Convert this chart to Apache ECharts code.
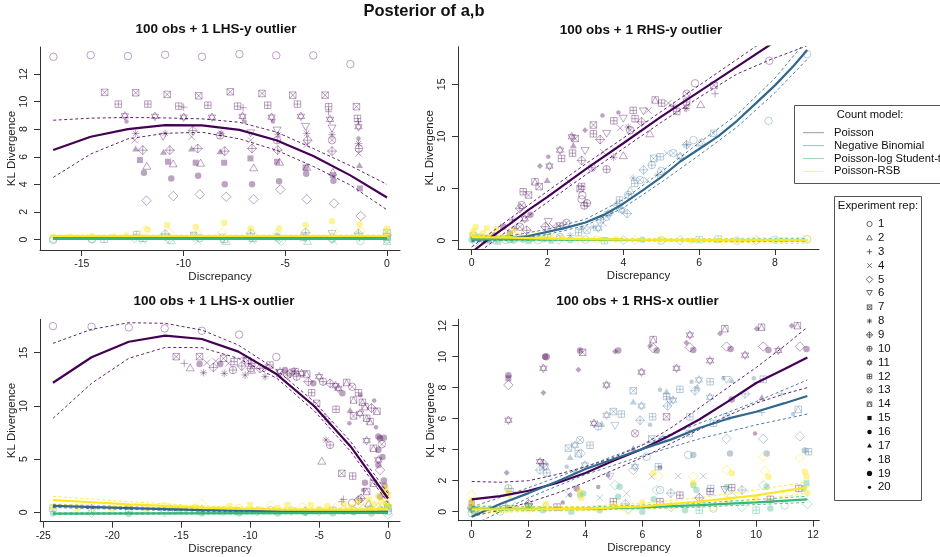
<!DOCTYPE html>
<html><head><meta charset="utf-8">
<script src="https://cdn.jsdelivr.net/npm/echarts@6/dist/echarts.min.js"></script>
<style>html,body{margin:0;padding:0;background:#fff}#c{width:940px;height:557px}</style>
</head><body><div id="c"></div>
<script>
// ---------------- DATA ----------------
const modelNames = ['Poisson','Negative Binomial','Poisson-log Student-t','Poisson-RSB'];
const repLabels = ['1','2','3','4','5','6','7','8','9','10','11','12','13','14','15','16','17','18','19','20'];
const panelTitles = ['100 obs + 1 LHS-y outlier','100 obs + 1 RHS-y outlier','100 obs + 1 LHS-x outlier','100 obs + 1 RHS-x outlier'];
const xTicks1 = [-15,-10,-5,0];
const yTicks1 = [0,2,4,6,8,10,12];
const xTicks2 = [0,2,4,6,8];
const yTicks2 = [0,5,10,15];
const xTicks3 = [-25,-20,-15,-10,-5,0];
const yTicks3 = [0,5,10,15];
const xTicks4 = [0,2,4,6,8,10,12];
const yTicks4 = [0,2,4,6,8,10,12];

// points: [discrepancy, KL divergence, experiment rep (pch)]
const p1Pois = [[-16.39,13.25,1],[-14.56,13.37,1],[-12.73,13.3,1],[-10.9,13.4,1],[-9.09,13.25,1],[-7.25,13.45,1],[-5.44,13.35,1],[-3.62,13.35,1],[-1.8,12.72,1],
[-13.87,10.67,7],[-12.35,10.64,7],[-10.8,10.52,7],[-9.25,10.42,7],[-7.7,10.71,7],[-6.14,10.59,7],[-4.63,10.47,7],[-3.04,10.47,7],[-1.5,9.63,7],
[-13.2,9.82,12],[-11.75,9.82,12],[-10.23,9.67,12],[-8.8,9.74,12],[-7.34,9.67,12],[-5.86,9.74,12],[-4.4,9.82,12],[-2.87,9.63,12],[-1.45,8.78,12],
[-9.99,9.6,3],[-7.07,9.56,3],[-2.87,9.27,3],[-1.4,8.54,3],
[-12.88,8.97,11],[-11.4,8.93,11],[-9.99,8.87,11],[-8.6,8.87,11],[-7.1,8.93,11],[-5.67,8.87,11],[-4.23,8.93,11],[-2.8,8.71,11],[-1.4,8.18,11],
[-12.8,8.55,20],[-7.0,8.55,20],[-5.6,8.55,20],[-1.4,7.33,20],
[-12.35,7.69,8],[-12.4,7.2,4],[-10.9,7.7,8],[-11.0,7.45,6],[-9.55,7.9,9],[-9.6,7.45,4],[-8.15,7.7,8],[-8.2,7.55,10],[-6.7,7.7,6],[-6.7,7.2,4],[-5.4,7.9,6],[-5.35,7.6,8],[-5.4,7.2,10],[-4.0,8.17,6],[-3.95,7.7,8],[-3.9,7.2,9],[-3.95,6.86,4],[-2.7,8.05,6],[-2.7,7.6,8],[-2.7,7.2,13],[-1.4,6.96,8],[-1.38,6.6,10],[-1.4,6.24,4],
[-12.35,6.6,17],[-10.98,6.36,17],[-9.6,6.6,17],[-8.2,6.4,17],[-1.35,5.4,17],
[-12.0,6.48,9],[-10.67,6.48,9],[-9.3,6.6,9],[-7.97,6.41,9],[-6.63,6.6,9],[-5.37,6.48,9],[-2.7,6.41,9],
[-12.14,5.76,15],[-10.76,5.64,15],[-9.4,5.57,15],[-8.0,5.57,15],[-6.71,5.88,15],[-5.4,5.64,15],[-4.0,5.23,15],[-2.66,4.67,15],[-1.33,3.7,15],
[-11.8,5.35,2],[-10.51,5.52,2],[-9.16,5.57,2],[-6.55,5.23,2],[-5.28,5.64,2],[-3.94,5.27,2],[-2.66,4.91,2],
[-11.94,4.84,16],[-10.6,4.43,16],[-9.28,4.63,16],[-7.97,4.0,16],[-6.63,4.0,16],[-5.3,4.22,16],[-3.97,4.77,16],[-2.63,4.26,16],
[-11.82,2.82,5],[-10.5,3.15,5],[-9.2,3.27,5],[-7.9,3.1,5],[-6.55,2.91,5],[-5.24,3.63,5],[-3.94,2.91,5],[-2.6,2.62,5],[-1.29,1.7,5]];
const p1NegBin = [[-12.3,0.35,12],[-12.0,0.1,2],[-10.9,0.4,9],[-10.7,0.05,5],[-9.5,0.3,7],[-9.2,0.1,1],[-8.1,0.25,4],[-8.0,0.0,12],[-6.7,0.45,9],[-6.6,0.1,2],[-5.4,0.3,8],[-5.3,0.05,5],[-4.0,0.5,9],[-4.1,0.15,12],[-2.7,0.4,6],[-2.7,0.05,1],[-1.4,0.45,9],[-1.35,0.1,3],[0,0.5,7],[0,0.2,12],[0,0.0,1],[-16.4,0.05,1],[-14.5,0.05,1],[-13.9,0.02,12]];
const p1StudT = [[-16.4,-0.05,1],[-14.5,0.0,1],[-12.4,0.1,5],[-12.0,-0.1,4],[-10.9,0.15,6],[-10.6,-0.05,2],[-9.5,0.2,5],[-9.3,-0.1,4],[-8.1,0.1,5],[-7.9,-0.1,2],[-6.7,0.2,5],[-6.6,-0.1,4],[-5.4,0.15,1],[-5.2,-0.1,5],[-4.0,0.2,5],[-3.9,-0.1,2],[-2.7,0.15,5],[-2.6,-0.12,4],[-1.4,0.25,5],[-1.3,-0.1,1],[0,0.3,5],[0,-0.1,2],[0,0.1,16]];
const p1RSB = [[-16.4,0.2,16],[-15.6,0.2,15],[-14.5,0.25,16],[-13.5,0.2,15],[-12.8,0.3,16],[-11.86,0.69,5],[-11.78,0.74,16],[-12.3,0.4,1],[-10.8,1.05,15],[-10.7,0.5,5],[-9.4,0.9,16],[-9.3,0.4,1],[-8.0,1.2,16],[-8.1,0.5,5],[-6.7,0.8,16],[-6.6,0.4,1],[-5.3,0.8,16],[-5.4,0.4,5],[-4.0,1.05,16],[-4.0,0.5,1],[-2.7,1.33,16],[-2.6,0.6,5],[-1.35,1.1,16],[-1.3,0.6,1],[0,0.8,16],[0,0.5,5],[0,0.3,15]];

const p2Pois = [[1.8,7.16,18],[2.05,7.16,11],[2.02,8.05,20],[1.67,5.65,14],[1.78,5.19,7],[1.99,5.83,17],[1.5,4.38,7],[1.36,4.7,12],[1.32,3.42,13],[1.27,3.1,9],[1.08,1.99,8],[2.33,8.69,11],[2.37,7.89,12],[2.64,9.97,11],[2.68,9.17,17],[2.73,9.8,7],[2.66,8.4,12],[2.99,10.6,18],[3.21,11.1,7],[3.45,12.0,20],[3.21,10.25,12],[3.39,9.7,9],[2.99,8.6,6],[3.56,10.25,6],[2.9,7.7,9],[3.17,7.0,10],[3.47,8.5,4],[3.74,8.0,8],[4.0,8.2,2],[3.56,6.85,10],[2.86,5.0,7],[2.92,4.36,1],[3.04,3.6,10],[2.55,5.7,4],[3.75,11.5,12],[3.87,12.3,20],[4.0,11.7,6],[4.26,12.5,12],[4.31,11.7,12],[4.48,11.4,9],[4.53,12.4,6],[4.66,12.5,4],[4.13,10.9,8],[3.92,10.8,4],[4.18,10.6,13],[4.7,10.3,2],[4.84,13.5,14],[5.01,13.2,12],[5.19,13.2,4],[5.32,12.9,8],[5.67,14.1,13],[5.89,15.1,1],[6.04,13.1,2],[5.67,12.7,8],[5.41,12.4,12],[5.67,13.3,12],[6.39,14.9,7],[6.42,14.1,3],[5.63,12.7,3],[0.83,1.34,15],[1.14,1.18,8],[1.27,1.34,13],[1.01,0.7,16],[1.45,1.0,9],[2.02,1.8,6],[1.94,1.34,9],[2.14,1.34,4],[2.33,1.4,12],[2.29,1.44,4],[2.5,1.7,13],[2.9,5.2,12],[7.85,17.26,1],[0.6,0.5,16],[0.3,0.2,1],[1.55,2.5,16],[1.4,2.1,11],[2.9,3.97,1],[2.97,3.37,10]];
const p2NegBin = [[5.85,9.65,1],[6.02,9.4,2],[5.67,9.2,8],[5.32,8.4,13],[5.15,8.4,4],[4.97,8.05,12],[4.8,7.9,7],[6.38,10.3,7],[4.75,7.25,10],[4.53,6.8,9],[4.26,6.0,8],[4.44,5.82,13],[4.62,5.82,4],[4.3,5.5,12],[4.18,4.86,2],[4.13,4.4,10],[3.83,3.4,9],[3.7,2.78,8],[3.56,2.3,13],[3.39,2.0,12],[3.21,1.3,8],[3.04,1.0,13],[2.82,0.77,12],[2.6,0.5,8],[2.33,0.35,13],[3.96,2.95,11],[4.1,2.6,9],[3.47,1.7,4],[3.34,1.2,11],[5.67,9.2,9],[6.07,9.5,2],[7.83,11.5,1],[8.85,17.9,1],[5.5,8.1,11],[5.0,6.7,13],[4.9,6.3,8],[3.9,3.9,12],[3.6,2.6,11],[2.9,1.2,8],[2.0,0.3,12],[1.5,0.2,4],[1.0,0.15,1],[0.5,0.1,12],[0.1,0.2,7],[0.05,0.5,13]];
const p2StudT = [[0,0.1,16],[0.05,0.3,15],[0.1,-0.1,5],[0.2,0.4,16],[0.3,0.2,1],[0.4,0.0,15],[0.5,0.3,16],[0.6,0.1,5],[0.7,-0.1,15],[0.8,0.25,16],[0.9,0.05,1],[1.0,0.2,15],[1.1,0.0,16],[1.2,0.3,5],[1.35,0.1,16],[1.5,-0.05,15],[1.6,0.2,16],[1.75,0.05,1],[1.9,0.15,16],[2.1,0.0,15],[2.3,0.1,5],[2.6,0.05,16],[3.0,0.1,1],[3.5,0.0,12],[4.0,0.05,5],[4.5,0.1,16],[5.0,0.0,1],[5.5,0.05,5],[6.0,0.1,12],[6.5,0.15,12],[7.0,0.0,1],[7.5,0.05,5],[8.0,0.1,1],[8.85,0.15,1]];
const p2RSB = [[0,0.6,16],[0.05,0.9,15],[0.1,1.3,15],[0.15,0.4,16],[0.3,0.7,16],[0.4,1.2,15],[0.5,0.5,16],[0.65,1.1,15],[0.7,0.3,16],[0.85,0.8,5],[1.0,0.5,16],[1.1,1.0,15],[1.25,0.4,16],[1.4,0.6,1],[1.55,0.3,16],[1.7,0.45,5],[1.9,0.25,16],[2.1,0.35,15],[2.4,0.2,16],[2.8,0.15,5],[3.3,0.1,1],[3.8,0.15,16],[4.3,0.05,5],[5.0,0.1,1],[5.8,0.0,16],[6.6,0.05,5],[7.4,0.0,1],[8.2,0.05,16],[8.85,0.1,1]];

const p3Pois = [[-24.3,17.5,1],[-21.5,17.44,1],[-18.8,17.38,1],[-16.2,17.28,1],[-13.5,17.06,1],[-10.8,16.7,1],[-8.1,14.6,1],
[-15.36,14.63,7],[-14.78,14.0,3],[-14.35,13.62,2],[-13.67,14.63,7],[-13.67,13.94,16],[-13.38,13.12,8],[-13.14,14.06,4],[-12.66,13.62,9],[-12.17,13.94,16],[-11.88,13.06,8],[-11.93,14.47,7],[-11.57,14.0,4],[-11.25,13.37,10],[-11.16,14.16,12],[-10.6,13.75,9],[-10.36,12.9,8],[-10.19,14.25,7],[-9.95,13.53,10],[-9.88,14.0,12],[-9.28,13.53,9],[-8.92,12.75,8],[-8.56,13.84,12],[-7.83,13.22,11],[-7.47,13.37,16],[-7.1,13.06,9],[-6.74,13.22,12],[-6.62,12.75,10],[-6.26,13.06,11],[-5.9,13.0,14],[-5.78,12.28,9],[-5.54,11.24,12],[-5.42,12.12,16],[-5.18,10.24,7],[-5.0,12.75,11],[-4.71,12.28,10],[-4.59,9.0,3],[-4.5,6.8,8],[-4.2,6.33,10],[-4.2,12.12,9],[-3.6,11.65,11],[-3.31,11.18,16],[-3.77,9.68,12],[-4.3,8.5,3],[-4.8,4.85,2],[-3.35,3.66,7],[-2.56,3.41,12],[-2.75,9.62,17],[-2.5,9.06,7],[-2.8,8.37,20],[-2.6,11.8,13],[-2.5,10.55,14],[-2.03,9.3,11],[-1.67,9.93,14],[-1.55,8.84,14],[-1.3,8.53,14],[-2.14,11.24,12],[-1.85,10.34,14],[-0.87,8.0,20],[-0.7,7.13,16],[-0.58,6.96,16],[-1.55,6.74,11],[-1.06,6.02,14],[-0.7,5.86,16],[-0.7,4.93,11],[-0.58,3.98,5],[-0.7,4.45,16],[-1.67,2.79,16],[-1.79,2.1,20],[-1.06,2.73,14],[-1.55,1.96,14],[-3.35,1.0,3],[-2.6,0.9,1],[-2.15,1.15,9],[-1.4,0.84,2],[-0.58,1.47,16],[-0.3,3.0,16],[-0.25,2.5,16],[-0.2,1.8,13],[-0.4,5.2,16],[-0.45,6.4,13],[-0.3,7.0,16],[-1.2,9.8,9],[-0.8,9.5,14],[-1.0,10.5,20],[-3.0,12.2,14],[-3.8,11.9,11],[-6.8,13.3,8],[-7.9,13.0,4],[-9.9,13.4,2],[-10.5,14.5,3],[-12.5,14.2,4],[-8.9,13.6,8],[-7.3,12.9,9],[-2.0,11.0,20],[-3.24,1.22,3],[-1.96,1.31,9]];
const p3NegBin = [[-24.3,0.4,12],[-21.5,0.35,9],[-18.8,0.3,12],[-16.2,0.2,1],[-15.4,0.2,7],[-13.5,0.25,9],[-11.0,0.15,12],[-8.5,0.2,1],[-6.0,0.1,9],[-4.0,0.2,12],[-2.5,0.15,1],[-1.3,0.3,9],[-0.5,0.2,12],[0,0.4,7],[0,0.1,1]];
const p3StudT = [[-24.3,-0.1,16],[-21.5,-0.05,5],[-18.8,-0.15,16],[-16.2,0.0,5],[-15.0,0.25,12],[-13.5,-0.1,16],[-12.0,0.1,5],[-10.8,-0.1,16],[-9.5,0.1,5],[-8.0,-0.1,16],[-7.0,0.15,5],[-6.0,-0.05,16],[-5.0,0.1,5],[-4.0,-0.1,16],[-3.2,0.2,5],[-2.5,0.0,16],[-1.8,0.3,5],[-1.2,-0.1,16],[-0.7,0.4,5],[-0.3,0.1,16],[0,0.5,16],[0,-0.2,5],[-0.1,0.8,16]];
const p3RSB = [[-24.3,0.5,15],[-22.5,0.4,16],[-21.5,0.6,5],[-20,0.3,16],[-18.8,0.5,15],[-17.5,0.3,16],[-16.2,0.6,1],[-15,0.4,15],[-14.0,0.5,16],[-13.5,0.8,5],[-12.5,0.3,15],[-11.5,0.6,16],[-10.8,0.4,1],[-10,0.7,15],[-9.3,0.3,16],[-8.5,0.6,5],[-8.0,0.4,16],[-7.3,0.7,15],[-6.8,0.2,16],[-6.2,0.5,1],[-5.6,0.7,16],[-5.0,0.3,15],[-4.4,0.6,16],[-3.8,0.4,5],[-3.2,0.8,16],[-2.7,0.5,15],[-2.2,1.0,16],[-1.8,0.6,5],[-1.4,1.2,15],[-1.0,0.8,16],[-0.7,1.5,16],[-0.5,1.0,15],[-0.3,2.0,16],[-0.2,1.4,5],[-0.1,0.9,16],[0,1.6,15],[0.05,0.6,16],[-0.4,0.4,1],[-1.2,0.3,16],[-0.15,2.3,16]];

const p4Pois = [[1.29,8.17,5],[1.29,8.8,16],[1.29,8.6,15],[1.29,5.9,11],[1.23,2.52,18],[2.52,9.25,11],[2.58,10.0,16],[2.62,10.0,19],[2.52,7.68,18],[2.4,3.23,11],[2.52,3.1,9],[3.75,9.15,18],[3.81,10.4,16],[3.9,10.28,7],[4.74,8.17,11],[5.04,10.33,18],[5.15,10.4,16],[5.97,9.0,11],[6.38,11.1,14],[6.27,10.7,18],[6.38,10.55,5],[6.5,10.4,16],[7.67,11.4,11],[7.55,10.9,18],[7.79,10.43,16],[7.67,10.6,5],[7.2,9.25,11],[8.9,11.8,14],[8.73,11.5,18],[8.96,10.65,5],[9.1,10.5,16],[8.38,9.74,11],[9.61,10.1,11],[10.19,11.9,14],[10.02,11.8,18],[10.25,10.65,5],[10.43,10.43,16],[10.78,10.4,11],[11.45,12.0,14],[11.25,12.0,18],[11.54,10.65,5],[11.77,10.5,16],[5.74,5.05,13],[6.85,6.12,7],[5.68,4.1,17],[9.14,7.24,16],[10.2,7.38,17],[6.62,2.86,20],[4.8,2.33,20],[4.45,1.6,20],[3.69,1.5,16],[3.46,1.07,20],[9.96,5.05,20],[7.32,1.07,12],[8.38,1.3,12],[8.9,1.4,6],[9.14,1.55,12],[4.98,0.65,12],[6.62,0.65,12],[3.0,0.3,12],[2.0,0.5,9],[1.2,0.4,3],[0,0.3,15],[0,0.6,16],[0.1,0.1,1],[4.3,5.7,11],[3.2,0.6,20],[8.0,0.9,9],[10.5,0.8,12],[11.5,1.5,12]];
const p4NegBin = [[1.29,1.5,10],[1.35,1.3,12],[2.64,2.5,10],[2.58,2.9,11],[2.4,2.69,9],[3.4,4.1,7],[3.46,3.53,17],[3.63,4.29,11],[3.81,4.62,13],[4.16,4.29,12],[3.34,2.9,20],[3.63,2.58,20],[3.98,3.01,11],[3.75,3.75,14],[3.83,3.76,5],[4.45,5.5,10],[4.57,5.68,17],[4.74,6.22,11],[5.04,5.54,6],[5.26,6.3,12],[4.98,6.46,7],[5.68,7.8,7],[5.97,6.82,11],[5.68,7.11,17],[5.92,5.9,9],[6.36,6.12,12],[6.27,5.61,20],[6.62,7.86,20],[6.85,7.76,17],[6.85,7.43,12],[7.08,7.2,11],[6.96,7.11,6],[6.88,6.82,9],[7.32,7.9,12],[6.33,4.7,7],[6.73,4.7,11],[7.65,5.05,14],[7.67,6.12,12],[7.73,8.38,20],[7.99,8.5,11],[8.38,8.38,12],[8.96,8.5,6],[9.14,8.5,17],[7.93,8.07,17],[7.85,7.8,9],[8.38,7.38,11],[8.85,8.6,20],[9.61,7.6,9],[9.92,8.6,20],[10.25,8.55,12],[8.96,6.12,14],[8.5,5.7,12],[8.96,4.7,5],[10.25,4.7,5],[11.54,4.86,5],[11.71,3.95,16],[11.84,3.87,12],[7.61,3.66,1],[7.79,3.66,16],[9.08,3.76,16],[10.37,3.76,16],[11.48,6.6,14],[11.3,6.3,20],[6.56,2.9,12],[5.68,2.69,5],[4.86,2.26,6],[6.15,3.55,1],[5.74,2.9,11],[6.62,1.4,1],[7.0,1.2,9],[8.4,1.5,12],[9.5,1.4,9],[10.2,6.4,3],[5.4,0.5,9],[2.0,0.3,12],[0.9,0.2,1],[0,0.2,9],[0,-0.1,1],[10.9,7.6,3],[6.33,2.26,4],[7.26,2.3,4],[8.14,2.3,4],[5.45,1.18,4],[3.4,1.1,4],[4.5,0.9,4]];
const p4StudT = [[7.79,1.72,16],[7.9,1.4,16],[10.37,1.61,16],[11.66,1.5,16],[11.77,1.84,15],[5.2,1.61,16],[5.04,1.72,5],[6.5,1.4,5],[5.15,0.97,16],[3.81,1.08,16],[3.92,1.18,16],[9.14,1.0,5],[10.25,1.7,5],[8.96,1.6,16],[6.4,0.8,16],[0,0.1,16],[0,0.3,5],[0.1,-0.1,15],[1.29,0.2,16],[1.35,0.6,5],[2.5,0.1,16],[2.6,0.3,5],[3.5,0.0,15],[4.5,0.1,16],[5.5,0.2,5],[6.0,0.0,16],[7.0,0.3,5],[7.5,0.1,16],[8.5,0.2,1],[9.5,0.3,5],[10.5,0.2,16],[11.0,0.4,1],[11.8,0.5,5],[2.0,0.4,16],[1.0,0.0,1],[8.0,0.1,12],[10.0,0.1,12]];
const p4RSB = [[6.38,2.5,16],[6.56,2.3,5],[7.79,2.26,5],[8.96,2.7,5],[9.14,2.48,16],[10.31,2.63,5],[10.43,2.26,16],[11.71,2.58,16],[11.77,2.26,15],[10.25,3.53,5],[11.54,3.46,5],[7.79,1.84,16],[0,1.1,5],[0,0.7,16],[0,0.4,15],[1.29,1.3,16],[1.32,1.1,15],[3.8,1.3,16],[3.85,0.9,15],[2.6,0.5,16],[5.0,0.4,16],[6.0,0.6,15],[7.0,0.3,5],[8.0,0.5,16],[9.0,0.8,15],[10.0,0.9,16],[11.0,1.0,5],[11.8,1.2,16],[4.5,0.2,1],[5.5,0.1,5],[8.5,0.3,1],[2.0,0.2,5]];

// fitted curves [x, y] : fit, upper, lower
const p1PoisFit = [[-16.4,6.49],[-14.56,7.45],[-12.73,8.0],[-10.9,8.3],[-9.09,8.28],[-7.25,7.95],[-5.44,7.2],[-3.62,6.05],[-1.8,4.65],[0,3.05]];
const p1PoisHi  = [[-16.4,8.65],[-14.56,8.8],[-12.73,8.85],[-10.9,8.82],[-9.09,8.75],[-7.25,8.5],[-5.44,7.8],[-3.62,6.6],[-1.8,5.35],[0,4.0]];
const p1PoisLo  = [[-16.4,4.5],[-14.56,6.2],[-12.73,7.3],[-10.9,7.7],[-9.09,7.78],[-7.25,7.3],[-5.44,6.48],[-3.62,5.3],[-1.8,3.95],[0,2.15]];
const p1NBFit = [[-16.4,0.12],[0,0.12]], p1NBHi = [[-16.4,0.18],[0,0.18]], p1NBLo = [[-16.4,0.06],[0,0.06]];
const p1STFit = [[-16.4,0.05],[0,0.05]], p1STHi = [[-16.4,0.1],[0,0.1]], p1STLo = [[-16.4,0.0],[0,0.0]];
const p1RSBFit = [[-16.4,0.25],[0,0.25]], p1RSBHi = [[-16.4,0.32],[0,0.32]], p1RSBLo = [[-16.4,0.18],[0,0.18]];

const p2PoisFit = [[0,-1.1],[0.5,0.3],[1,1.6],[1.5,2.95],[2,4.2],[3,6.85],[4,9.35],[5,11.9],[6,14.3],[7,16.7],[8,19.1],[8.85,21.1]];
const p2PoisHi  = [[0,-0.6],[1,2.1],[2,4.75],[3,7.35],[4,9.85],[5,12.4],[6,14.9],[7,17.4],[8,19.9]];
const p2PoisLo  = [[0,-1.6],[1,1.1],[2,3.7],[3,6.3],[4,8.85],[5,11.35],[6,13.75],[7,16.0],[7.9,17.4],[8.85,18.7]];
const p2NBFit = [[0,0.1],[0.5,0.15],[1,0.25],[1.5,0.45],[2,0.85],[2.5,1.25],[3,1.75],[3.5,2.5],[4,3.55],[4.5,4.8],[5,6.1],[5.5,7.6],[6,8.8],[6.5,10.0],[7,11.5],[7.5,13.2],[8,14.9],[8.5,16.8],[8.85,18.3]];
const p2NBHi  = [[0,0.3],[1,0.45],[2,1.1],[3,2.05],[4,3.95],[5,6.6],[6,9.4],[7,12.1],[8,15.6],[8.85,19.3]];
const p2NBLo  = [[0,-0.1],[1,0.05],[2,0.6],[3,1.45],[4,3.15],[5,5.6],[6,8.2],[7,10.9],[8,14.2],[8.85,17.4]];
const p2STFit = [[0,0.15],[2,0.12],[4,0.08],[8.85,0.05]], p2STHi = [[0,0.25],[4,0.15],[8.85,0.2]], p2STLo = [[0,0.05],[4,0.0],[8.85,-0.1]];
const p2RSBFit = [[0,0.35],[1,0.3],[2,0.2],[4,0.1],[6,0.05],[8.85,0.05]], p2RSBHi = [[0,0.5],[2,0.3],[4,0.2],[6,0.2],[8.85,0.3]], p2RSBLo = [[0,0.2],[2,0.1],[4,0.0],[6,-0.1],[8.85,-0.3]];

const p3PoisFit = [[-24.3,12.18],[-21.5,14.57],[-18.8,16.03],[-16.16,16.6],[-13.5,16.29],[-10.85,15.1],[-8.07,12.97],[-5.36,9.99],[-2.7,6.17],[0,1.3]];
const p3PoisHi  = [[-24.3,15.88],[-21.5,17.2],[-18.8,17.82],[-16.16,17.76],[-13.5,17.13],[-10.85,15.72],[-8.07,13.37],[-5.36,10.4],[-2.7,6.64],[0,1.78]];
const p3PoisLo  = [[-24.3,8.83],[-21.5,12.12],[-18.8,14.47],[-16.16,15.5],[-13.5,15.47],[-10.85,14.47],[-8.07,12.6],[-5.36,9.55],[-2.7,5.7],[0,0.9]];
const p3NBFit = [[-24.3,0.6],[-18.8,0.4],[-13.5,0.2],[-8.07,0.1],[0,0.05]], p3NBHi = [[-24.3,0.75],[-13.5,0.3],[0,0.12]], p3NBLo = [[-24.3,0.45],[-13.5,0.1],[0,-0.02]];
const p3STFit = [[-24.3,-0.12],[0,-0.05]], p3STHi = [[-24.3,-0.05],[0,0.0]], p3STLo = [[-24.3,-0.2],[0,-0.1]];
const p3RSBFit = [[-24.3,1.15],[-21.5,0.95],[-18.8,0.75],[-16.16,0.6],[-13.5,0.45],[-10.85,0.35],[-8.07,0.28],[-5.36,0.25],[-2.7,0.25],[0,0.3]];
const p3RSBHi = [[-24.3,1.5],[-18.8,1.0],[-13.5,0.6],[-8.07,0.4],[0,0.4]];
const p3RSBLo = [[-24.3,0.8],[-18.8,0.5],[-13.5,0.3],[-8.07,0.18],[0,0.2]];

const p4PoisFit = [[0,0.8],[1,1.0],[2,1.35],[3,1.85],[4,2.5],[5,3.3],[6,4.05],[7,4.95],[8,5.95],[9,7.1],[10,8.3],[11,9.2],[11.8,9.95]];
const p4PoisHi  = [[0,1.95],[1,1.9],[2,2.0],[3,2.4],[4,2.9],[5,3.5],[6,4.3],[7,5.4],[8,6.7],[9,8.0],[10,9.3],[11,10.7],[11.8,11.9]];
const p4PoisLo  = [[0,-0.3],[1,0.1],[2,0.6],[3,1.2],[4,1.9],[5,2.7],[6,3.5],[7,4.4],[8,5.3],[9,6.2],[10,7.0],[11,7.6],[11.8,8.0]];
const p4NBFit = [[0,-0.32],[1,0.5],[2,1.2],[3,1.95],[4,2.75],[5,3.4],[6,4.05],[7,4.65],[8,5.4],[9,6.0],[10,6.45],[11,7.0],[11.8,7.46]];
const p4NBHi  = [[0,0.3],[2,1.55],[4,2.9],[6,4.3],[8,5.7],[10,7.1],[11.8,8.5]];
const p4NBLo  = [[0,-0.9],[2,0.9],[4,2.4],[6,3.6],[8,4.7],[10,5.6],[11.8,6.3]];
const p4STFit = [[0,0.2],[2,0.18],[4,0.2],[6,0.28],[8,0.42],[10,0.6],[11.8,0.8]];
const p4STHi  = [[0,0.35],[4,0.3],[8,0.55],[11.8,1.0]];
const p4STLo  = [[0,0.05],[4,0.1],[8,0.3],[11.8,0.6]];
const p4RSBFit = [[0,0.15],[2,0.15],[4,0.2],[6,0.35],[8,0.65],[10,1.05],[11.8,1.57]];
const p4RSBHi  = [[0,0.45],[2,0.3],[4,0.35],[6,0.55],[8,0.9],[10,1.4],[11.8,1.93]];
const p4RSBLo  = [[0,-0.1],[2,0.02],[4,0.08],[6,0.18],[8,0.42],[10,0.75],[11.8,1.2]];

// ---------------- STYLE ----------------
const FONT = '"Liberation Sans", Arial, Helvetica, sans-serif';
const LINE_COL = ['#440154','#31688E','#35B779','#FDE725'];
const PT_COL = ['rgba(68,1,84,0.45)','rgba(49,104,142,0.4)','rgba(53,183,121,0.45)','rgba(253,231,37,0.6)'];
const LEG_COL = ['rgba(68,1,84,0.45)','rgba(49,104,142,0.45)','rgba(53,183,121,0.5)','rgba(253,231,37,0.6)'];
const CIRC = 'M0 5A5 5 0 1 0 10 5A5 5 0 1 0 0 5Z';
// c: has circle outline; d: straight-segment part of the glyph (10x10 box)
const PCH = {
  1:{c:1,d:'',z:7.5,h:1}, 2:{c:0,d:'M5 0L10 8.66L0 8.66Z',z:8,h:1}, 3:{c:0,d:'M5 0L5 10M0 5L10 5',z:7.5,h:1}, 4:{c:0,d:'M0 0L10 10M0 10L10 0',z:6.5,h:1},
  5:{c:0,d:'M5 0L10 5L5 10L0 5Z',z:9.5,h:1}, 6:{c:0,d:'M0 0L10 0L5 8.66Z',z:8,h:1}, 7:{c:0,d:'M0 0L10 0L10 10L0 10ZM0 0L10 10M0 10L10 0',z:6.5,h:1},
  8:{c:0,d:'M5 0L5 10M0 5L10 5M1.5 1.5L8.5 8.5M1.5 8.5L8.5 1.5',z:7.5,h:1}, 9:{c:0,d:'M5 0L10 5L5 10L0 5ZM5 0L5 10M0 5L10 5',z:9,h:1},
  10:{c:1,d:'M5 0L5 10M0 5L10 5',z:7.5,h:1}, 11:{c:0,d:'M5 0L9.33 7.5L0.67 7.5ZM5 10L0.67 2.5L9.33 2.5Z',z:8.5,h:1}, 12:{c:0,d:'M0 0L10 0L10 10L0 10ZM5 0L5 10M0 5L10 5',z:6.5,h:1},
  13:{c:1,d:'M1.46 1.46L8.54 8.54M1.46 8.54L8.54 1.46',z:7.5,h:1}, 14:{c:0,d:'M0 0L10 0L10 10L0 10ZM0 10L5 0L10 10',z:6.5,h:1},
  15:{c:0,d:'M0 0L10 0L10 10L0 10Z',z:6,h:0}, 16:{c:1,d:'',z:6.5,h:0}, 17:{c:0,d:'M5 0L10 8.66L0 8.66Z',z:7,h:0}, 18:{c:0,d:'M5 0L10 5L5 10L0 5Z',z:6,h:0},
  19:{c:1,d:'',z:7.5,h:0}, 20:{c:1,d:'',z:4.5,h:0}
};
const GRIDS = [
  {left:40, top:47, width:360, height:203, xmin:-17.05, xmax:0.64, ymin:-0.76, ymax:13.96, xt:xTicks1, yt:yTicks1},
  {left:458, top:46.7, width:361, height:202.3, xmin:-0.361, xmax:9.161, ymin:-0.796, ymax:18.61, xt:xTicks2, yt:yTicks2},
  {left:40, top:319.3, width:360, height:202.4, xmin:-25.24, xmax:0.87, ymin:-0.88, ymax:18.14, xt:xTicks3, yt:yTicks3},
  {left:458.3, top:319.3, width:361, height:201.4, xmin:-0.471, xmax:12.22, ymin:-0.58, ymax:12.41, xt:xTicks4, yt:yTicks4}
];
const AX_COL = '#333';
function symPath(s){ return 'path://' + (s.c ? CIRC : '') + s.d; }

function scatter(idx, pts, m){
  return {type:'scatter', xAxisIndex:idx, yAxisIndex:idx, silent:true, symbolKeepAspect:true, z:2, animation:false,
    emphasis:{disabled:true},
    data: pts.map(p=>{ const s=PCH[p[2]]; return {value:[p[0],p[1]], symbol:symPath(s), symbolSize:s.z,
      itemStyle: s.h ? {color:'rgba(0,0,0,0)', borderColor:PT_COL[m], borderWidth:1} : {color:PT_COL[m], borderWidth:0}}; })};
}
function line(idx, pts, m, dashed){
  return {type:'line', xAxisIndex:idx, yAxisIndex:idx, data:pts, symbol:'none', showSymbol:false, silent:true, clip:true, animation:false,
    z: dashed?4:5, emphasis:{disabled:true},
    lineStyle:{color:LINE_COL[m], width: dashed?1:2.2, type: dashed?[3,2.5]:'solid', opacity: dashed?0.85:1}};
}
const panels = [
  {pts:[p1Pois,p1NegBin,p1StudT,p1RSB], fits:[[p1PoisFit,p1PoisHi,p1PoisLo],[p1NBFit,p1NBHi,p1NBLo],[p1STFit,p1STHi,p1STLo],[p1RSBFit,p1RSBHi,p1RSBLo]]},
  {pts:[p2Pois,p2NegBin,p2StudT,p2RSB], fits:[[p2PoisFit,p2PoisHi,p2PoisLo],[p2NBFit,p2NBHi,p2NBLo],[p2STFit,p2STHi,p2STLo],[p2RSBFit,p2RSBHi,p2RSBLo]]},
  {pts:[p3Pois,p3NegBin,p3StudT,p3RSB], fits:[[p3PoisFit,p3PoisHi,p3PoisLo],[p3NBFit,p3NBHi,p3NBLo],[p3STFit,p3STHi,p3STLo],[p3RSBFit,p3RSBHi,p3RSBLo]]},
  {pts:[p4Pois,p4NegBin,p4StudT,p4RSB], fits:[[p4PoisFit,p4PoisHi,p4PoisLo],[p4NBFit,p4NBHi,p4NBLo],[p4STFit,p4STHi,p4STLo],[p4RSBFit,p4RSBHi,p4RSBLo]]}
];
const series = [];
panels.forEach((P,i)=>{
  P.pts.forEach((pts,m)=>series.push(scatter(i,pts,m)));
  P.fits.forEach((f,m)=>{ series.push(line(i,f[1],m,true)); series.push(line(i,f[2],m,true)); series.push(line(i,f[0],m,false)); });
});

const grid = GRIDS.map(g=>({left:g.left, top:g.top, width:g.width, height:g.height}));
const xAxis = GRIDS.map((g,i)=>({type:'value', gridIndex:i, min:g.xmin, max:g.xmax,
  axisLine:{show:true, onZero:false, lineStyle:{color:AX_COL, width:1}},
  axisTick:{show:true, length:6, customValues:g.xt, lineStyle:{color:AX_COL}},
  axisLabel:{customValues:g.xt, fontSize:10.5, color:'#222', margin:9, fontFamily:FONT},
  splitLine:{show:false}, name:'Discrepancy', nameLocation:'middle', nameGap:16,
  nameTextStyle:{fontSize:11.5, color:'#222', fontFamily:FONT}}));
const yAxis = GRIDS.map((g,i)=>({type:'value', gridIndex:i, min:g.ymin, max:g.ymax,
  axisLine:{show:true, onZero:false, lineStyle:{color:AX_COL, width:1}},
  axisTick:{show:true, length:6, customValues:g.yt, lineStyle:{color:AX_COL}},
  axisLabel:{customValues:g.yt, fontSize:10.5, color:'#222', margin:10, rotate:90, fontFamily:FONT},
  splitLine:{show:false}, name:'KL Divergence', nameLocation:'middle', nameGap:20, nameRotate:90,
  nameTextStyle:{fontSize:11.5, color:'#222', fontFamily:FONT}}));

// ---------------- GRAPHIC (titles + legends) ----------------
const graphic = [];
function txt(x,y,s,size,bold,align){ graphic.push({type:'text', x:x, y:y, silent:true, z:10,
  style:{text:s, fontSize:size, fontWeight:bold?'bold':'normal', fontFamily:FONT, fill:'#111', align:align||'center', verticalAlign:'middle'}}); }
txt(424,11,'Posterior of a,b',16.5,true);
const titlePos = [[216,29],[641,30],[214,301],[637.5,301]];
panelTitles.forEach((t,i)=>txt(titlePos[i][0],titlePos[i][1],t,13.5,true));
// Count model legend
graphic.push({type:'rect', shape:{x:794.5,y:105.5,width:170,height:78}, style:{fill:'#fff', stroke:'#555', lineWidth:1}, z:9, silent:true});
txt(870,115,'Count model:',11.2,false);
modelNames.forEach((n,i)=>{ const y=132.7+i*12.9;
  graphic.push({type:'line', shape:{x1:803,y1:y,x2:824,y2:y}, style:{stroke:LEG_COL[i], lineWidth:1}, z:10, silent:true});
  txt(834,y,n,11.2,false,'left'); });
// Experiment rep legend (glyphs from primitives)
function glyph(s, cx, cy, size){
  const k = size/10, ox = cx - 5*k, oy = cy - 5*k;
  const st = s.h ? {fill:null, stroke:'#444', lineWidth:0.8} : {fill:'#111', stroke:null};
  if (s.c) graphic.push({type:'circle', shape:{cx:cx, cy:cy, r:5*k}, style:st, z:10, silent:true});
  if (!s.d) return;
  s.d.split('M').filter(x=>x).forEach(seg=>{
    const closed = seg.indexOf('Z')>=0;
    const pts = seg.replace('Z','').split('L').map(q=>{ const a=q.trim().split(/\s+/).map(Number); return [ox+a[0]*k, oy+a[1]*k]; });
    graphic.push({type: closed?'polygon':'polyline', shape:{points:pts}, style: closed?st:{fill:null, stroke:s.h?'#444':'#111', lineWidth:0.8}, z:10, silent:true});
  });
}
graphic.push({type:'rect', shape:{x:834.5,y:196.5,width:87,height:304}, style:{fill:'#fff', stroke:'#555', lineWidth:1}, z:9, silent:true});
txt(878,206,'Experiment rep:',11.4,false);
repLabels.forEach((r,i)=>{ const y=224+i*13.86; const s=PCH[i+1];
  glyph(s, 869.5, y, s.z*0.7);
  txt(878,y,r,11.4,false,'left'); });

const chart = echarts.init(document.getElementById('c'), null, {renderer:'canvas'});
chart.setOption({animation:false, backgroundColor:'#fff', grid, xAxis, yAxis, series, graphic,
  textStyle:{fontFamily:FONT}});
</script></body></html>
